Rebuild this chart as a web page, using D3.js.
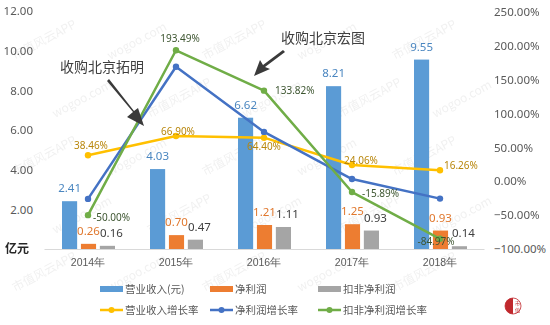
<!DOCTYPE html>
<html><head><meta charset="utf-8">
<script src="https://cdn.jsdelivr.net/npm/d3@7"></script>
<style>body{margin:0;background:#fff}svg{display:block;font-family:"Noto Sans CJK SC","Noto Sans",sans-serif}</style>
</head><body><svg id="c" width="550" height="325"></svg>
<script>
const years = ["2014年","2015年","2016年","2017年","2018年"];
const revenue = [2.41,4.03,6.62,8.21,9.55];
const netProfit = [0.26,0.70,1.21,1.25,0.93];
const deductedProfit = [0.16,0.47,1.11,0.93,0.14];
const revenueGrowth = [38.46,66.90,64.40,24.06,16.26];
const netProfitGrowth = [-26.0,169.2,72.9,3.3,-25.6];
const deductedGrowth = [-50.00,193.49,133.82,-15.89,-84.97];
const leftTicks = [2,4,6,8,10,12];
const rightTicks = [-100,-50,0,50,100,150,200,250];
const barNames = ["营业收入(元)","净利润","扣非净利润"];
const lineNames = ["营业收入增长率","净利润增长率","扣非净利润增长率"];

const svg = d3.select("#c");
const x = d3.scaleBand().domain(years).range([44,484]);
const xi = d3.scaleBand().domain(barNames).range([-26,27]).paddingInner(0.2);
const yL = d3.scaleLinear().domain([0,12]).range([249,11]);
const yR = d3.scaleLinear().domain([-100,250]).range([249,12]);
const cx = d => x(d)+x.bandwidth()/2;
const barColors = ["#5b9bd5","#ed7d31","#a5a5a5"];
const barLabelColors = ["#4a86c0","#e0782e","#404040"];
const lineColors = ["#ffc000","#4472c4","#70ad47"];

// faint watermark
const wm = svg.append("g").attr("fill","#cfcfcf").attr("opacity",0.3).style("font-size","12px");
for(let r=0;r<5;r++){for(let c=0;c<5;c++){
  const tx = 15 + c*95 + (r%2)*40, ty = 60 + r*58;
  wm.append("text").attr("transform",`translate(${tx},${ty}) rotate(-28)`).text((r+c)%2? "wogoo.com":"市值风云APP");
}}

// axes
const gL = svg.append("g").attr("transform","translate(33,0)")
  .call(d3.axisLeft(yL).tickValues(leftTicks).tickFormat(d3.format(".2f")).tickSize(0).tickPadding(0));
gL.select(".domain").remove();
gL.selectAll("text").attr("fill","#595959").style("font-size","11.5px").style("font-family","'Noto Sans','Noto Sans CJK SC',sans-serif");
const gR = svg.append("g").attr("transform","translate(494,0)")
  .call(d3.axisRight(yR).tickValues(rightTicks).tickFormat(d=>d3.format(".2f")(d)+"%").tickSize(0).tickPadding(0));
gR.select(".domain").remove();
gR.selectAll("text").attr("fill","#595959").style("font-size","11.5px").style("font-family","'Noto Sans','Noto Sans CJK SC',sans-serif");

const gX = svg.append("g").attr("transform","translate(0,249)")
  .call(d3.axisBottom(x).tickSize(0).tickPadding(10));
gX.select(".domain").attr("stroke","#d9d9d9");
gX.selectAll("text").attr("fill","#595959").style("font-size","10.5px");

svg.append("text").attr("x",5).attr("y",253).attr("fill","#262626").style("font-size","12px").style("font-weight","bold").text("亿元");

// bars
const barSeries = [revenue,netProfit,deductedProfit];
barSeries.forEach((vals,si)=>{
  svg.append("g").selectAll("rect").data(vals).join("rect")
    .attr("x",(d,i)=>cx(years[i])+xi(barNames[si]))
    .attr("width",xi.bandwidth())
    .attr("y",d=>yL(d)).attr("height",d=>yL(0)-yL(d))
    .attr("fill",barColors[si]);
});

// lines
const lineSeries = [revenueGrowth,netProfitGrowth,deductedGrowth];
lineSeries.forEach((vals,si)=>{
  const line = d3.line().x((d,i)=>cx(years[i])).y(d=>yR(d));
  svg.append("path").datum(vals).attr("d",line).attr("fill","none")
    .attr("stroke",lineColors[si]).attr("stroke-width",2.5).attr("stroke-linejoin","round");
  svg.append("g").selectAll("circle").data(vals).join("circle")
    .attr("cx",(d,i)=>cx(years[i])).attr("cy",d=>yR(d)).attr("r",3.2).attr("fill",lineColors[si]);
});

// bar labels
const barLblDx = [0,0,4];
barSeries.forEach((vals,si)=>{
  svg.append("g").selectAll("text").data(vals).join("text")
    .attr("x",(d,i)=>cx(years[i])+xi(barNames[si])+xi.bandwidth()/2+barLblDx[si])
    .attr("y",d=>yL(d)-9)
    .attr("text-anchor","middle").attr("fill",barLabelColors[si])
    .style("font-size","11.5px").style("font-family","'Noto Sans',sans-serif")
    .text(d=>d.toFixed(2));
});

// line labels: [dx, dy, anchor]
const fmtP = d=>d.toFixed(2)+"%";
const yelPos = [[3,-9,"middle"],[2,-4,"middle"],[0,10,"middle"],[9,-4,"middle"],[4,-4,"start"]];
const grnPos = [[5,3,"start"],[4,-11,"middle"],[11,1,"start"],[10,2,"start"],[-4,3,"middle"]];
const lbl = (vals,pos,color)=>svg.append("g").selectAll("text").data(vals).join("text")
  .attr("x",(d,i)=>cx(years[i])+pos[i][0]).attr("y",(d,i)=>yR(d)+pos[i][1])
  .attr("text-anchor",(d,i)=>pos[i][2]).attr("dominant-baseline","middle")
  .attr("fill",color).style("font-size","10px").style("font-family","'Noto Sans',sans-serif")
  .text(fmtP);
lbl(revenueGrowth,yelPos,"#b8860b");
lbl(deductedGrowth,grnPos,"#3d5530");

// annotations
svg.append("text").attr("x",60).attr("y",72).attr("fill","#404040").style("font-size","14px").text("收购北京拓明");
svg.append("text").attr("x",281).attr("y",43).attr("fill","#404040").style("font-size","14px").text("收购北京宏图");
svg.append("path").attr("fill","#3a3a3a")
  .attr("d","M107,81 L133,112 L127,117 L144,126 L138,108 L134,111 L109,79 Z");
svg.append("path").attr("fill","#3a3a3a")
  .attr("d","M283,50 L263,65 L260,60 L254,76 L270,69 L265,67 L285,52 Z");

// legend
const lgX = [100,210,318];
barNames.forEach((n,i)=>{
  svg.append("rect").attr("x",lgX[i]).attr("y",286).attr("width",23).attr("height",6).attr("fill",barColors[i]);
  svg.append("text").attr("x",lgX[i]+25).attr("y",293).attr("fill","#595959").style("font-size","10.5px").text(n);
});
lineNames.forEach((n,i)=>{
  svg.append("line").attr("x1",lgX[i]).attr("x2",lgX[i]+23).attr("y1",310).attr("y2",310).attr("stroke",lineColors[i]).attr("stroke-width",2.5);
  svg.append("circle").attr("cx",lgX[i]+11.5).attr("cy",310).attr("r",3).attr("fill",lineColors[i]);
  svg.append("text").attr("x",lgX[i]+25).attr("y",314).attr("fill","#595959").style("font-size","10.5px").text(n);
});

// logo
const lg = svg.append("g").attr("transform","translate(513,306)");
lg.append("path").attr("d","M0,-8 A8,8 0 0,0 0,8 Z").attr("fill","#c0282d");
lg.append("circle").attr("r",8).attr("fill","none").attr("stroke","#c0282d").attr("stroke-width",0.8);
lg.append("text").attr("x",4.5).attr("y",-1.5).attr("text-anchor","middle").attr("fill","#c0282d").style("font-size","5px").text("市");
lg.append("text").attr("x",4.5).attr("y",5.5).attr("text-anchor","middle").attr("fill","#c0282d").style("font-size","5px").text("值");
</script></body></html>
